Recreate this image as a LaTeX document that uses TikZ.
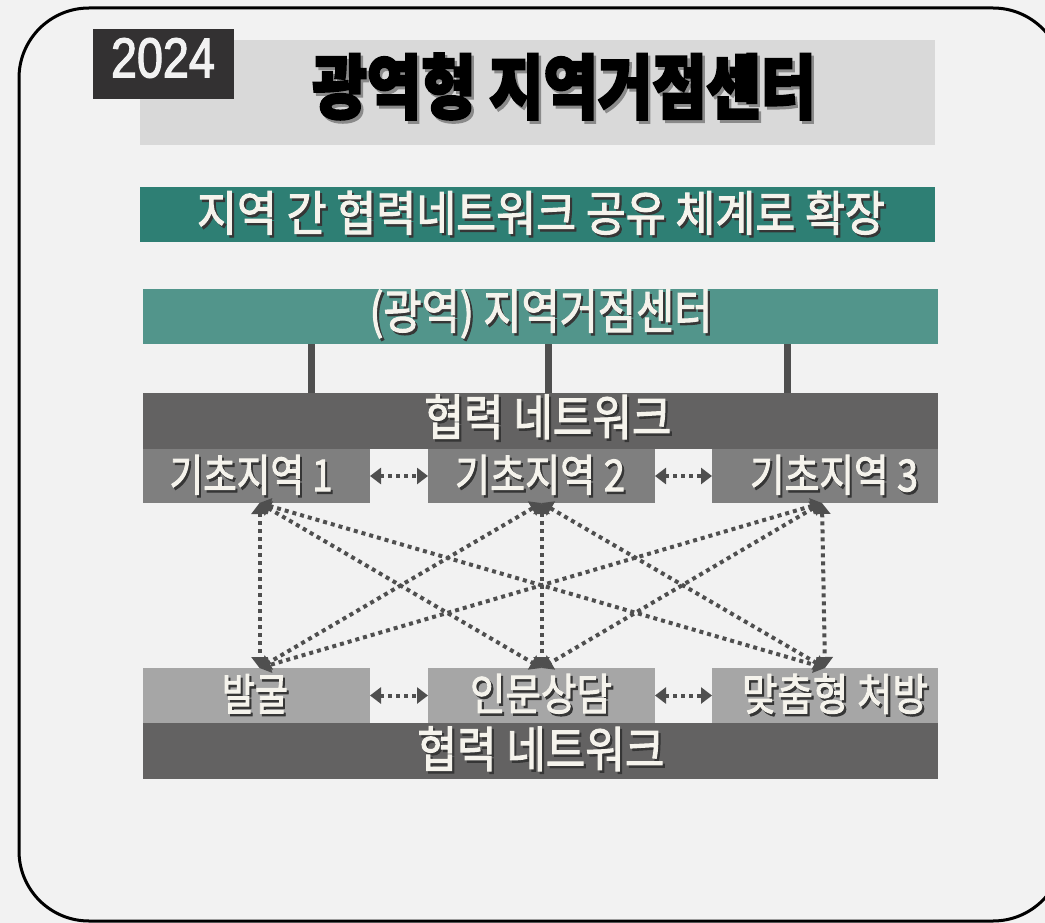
\documentclass[tikz,border=0pt]{standalone}
\usepackage{fontspec}
\usepackage{graphicx}
\newfontfamily\kr{Noto Sans CJK KR}[FakeBold=2.2]
\newfontfamily\krt{Noto Sans CJK KR}[FakeBold=3.5]
\newfontfamily\lat{Liberation Sans}[FakeBold=2.5]
\usetikzlibrary{arrows.meta}
\definecolor{bg}{HTML}{F2F2F2}
\definecolor{titlegray}{HTML}{D9D9D9}
\definecolor{yeardark}{HTML}{333132}
\definecolor{teal}{HTML}{2E7F74}
\definecolor{tealight}{HTML}{52958B}
\definecolor{netgray}{HTML}{636262}
\definecolor{midgray}{HTML}{7F7F7F}
\definecolor{lightgray}{HTML}{A6A6A6}
\definecolor{linkgray}{HTML}{4F4F4F}
\definecolor{txt}{HTML}{F5F3EC}
\definecolor{shdark}{HTML}{363636}
\definecolor{shgray}{HTML}{8A8A8A}
\newcommand\shadowed[3]{\leavevmode\rlap{\kern#2\raisebox{-#2}{\textcolor{#1}{#3}}}#3}
\newcommand\fitw[2]{\resizebox{#1}{\height}{#2}}
\newcommand\shw[1]{\shadowed{shdark}{2.5pt}{#1}}
\tikzset{
  box/.style 2 args={inner sep=0pt, outer sep=0pt, draw=none, minimum width=#1, minimum height=#2},
  lbl/.style={inner sep=0pt, outer sep=0pt, text=txt},
  frame/.style={draw=black, line width=3pt, rounded corners=70pt},
  trunk/.style={draw=linkgray, line width=7pt},
  link/.style={draw=linkgray, line width=4pt, dash pattern=on 4pt off 4pt,
    {Triangle[length=11pt,width=16pt]}-{Triangle[length=11pt,width=16pt]}},
}
\begin{document}
\begin{tikzpicture}[x=1pt,y=-1pt]
\useasboundingbox (0,0) rectangle (1045,923);
\fill[bg] (0,0) rectangle (1045,923);
\clip (0,0) rectangle (1045,923);
\draw[frame] (19,8) rectangle (1063,921);

% boxes
\node[box={795pt}{105pt}, fill=titlegray] (titlebox) at (537.5,92.5) {};
\node[box={141pt}{70pt}, fill=yeardark] (yearbox) at (163.5,64) {};
\node[box={795pt}{55pt}, fill=teal] (subbar) at (537.5,214.5) {};
\node[box={795pt}{55pt}, fill=tealight] (hub) at (540.5,316.5) {};
\node[box={795pt}{56pt}, fill=netgray] (net1) at (540.5,421) {};
\node[box={227pt}{54pt}, fill=midgray] (t1) at (256.5,476) {};
\node[box={227pt}{54pt}, fill=midgray] (t2) at (541.5,476) {};
\node[box={226pt}{54pt}, fill=midgray] (t3) at (825,476) {};
\node[box={227pt}{55pt}, fill=lightgray] (b1) at (256.5,695.5) {};
\node[box={227pt}{55pt}, fill=lightgray] (b2) at (541.5,695.5) {};
\node[box={226pt}{55pt}, fill=lightgray] (b3) at (825,695.5) {};
\node[box={795pt}{56pt}, fill=netgray] (net2) at (540.5,751) {};

% texts
\node[lbl, text=black, font=\krt\bfseries\fontsize{70}{70}\selectfont] (titletxt) at (564,88)
  {\fitw{503pt}{\shadowed{shgray}{3pt}{광역형 지역거점센터}}};
\node[lbl, text=bg, font=\lat\fontsize{56}{56}\selectfont] (yeartxt) at (163,58) {\fitw{104pt}{2024}};
\node[lbl, font=\kr\fontsize{48}{48}\selectfont] (subtxt) at (541,214)
  {\fitw{688pt}{\shw{지역 간 협력네트워크 공유 체계로 확장}}};
\node[lbl, font=\kr\fontsize{48}{48}\selectfont] (hubtxt) at (541,315)
  {\fitw{343pt}{\shw{(광역) 지역거점센터}}};
\node[lbl, font=\kr\fontsize{49}{49}\selectfont] (net1txt) at (548,418)
  {\fitw{247pt}{\shw{협력 네트워크}}};
\node[lbl, font=\kr\fontsize{44}{44}\selectfont] (t1txt) at (251,476) {\fitw{163pt}{\shw{기초지역 1}}};
\node[lbl, font=\kr\fontsize{44}{44}\selectfont] (t2txt) at (540,476) {\fitw{170pt}{\shw{기초지역 2}}};
\node[lbl, font=\kr\fontsize{44}{44}\selectfont] (t3txt) at (834,476) {\fitw{168pt}{\shw{기초지역 3}}};
\node[lbl, font=\kr\fontsize{44}{44}\selectfont] (b1txt) at (255,695) {\fitw{66pt}{\shw{발굴}}};
\node[lbl, font=\kr\fontsize{44}{44}\selectfont] (b2txt) at (541,695) {\fitw{142pt}{\shw{인문상담}}};
\node[lbl, font=\kr\fontsize{44}{44}\selectfont] (b3txt) at (835,695) {\fitw{186pt}{\shw{맞춤형 처방}}};
\node[lbl, font=\kr\fontsize{49}{49}\selectfont] (net2txt) at (541,750)
  {\fitw{247pt}{\shw{협력 네트워크}}};

% trunks from hub to network bar
\draw[trunk] ([xshift=-229.5pt]hub.south) -- ([xshift=-229.5pt]net1.north);
\draw[trunk] ([xshift=7.5pt]hub.south) -- ([xshift=7.5pt]net1.north);
\draw[trunk] ([xshift=246.5pt]hub.south) -- ([xshift=246.5pt]net1.north);

% horizontal links
\draw[link] (t1.east) -- (t2.west);
\draw[link] (t2.east) -- (t3.west);
\draw[link] (b1.east) -- (b2.west);
\draw[link] (b2.east) -- (b3.west);

% cross links
\coordinate (p1) at ([xshift=3pt]t1.south);
\coordinate (p2) at (t2.south);
\coordinate (p3) at ([xshift=-3pt]t3.south);
\coordinate (q1) at ([xshift=3pt]b1.north);
\coordinate (q2) at (b2.north);
\coordinate (q3) at (b3.north);
\foreach \i in {1,2,3}{
  \foreach \j in {1,2,3}{
    \draw[link] (p\i) -- (q\j);
  }
}
\end{tikzpicture}
\end{document}
